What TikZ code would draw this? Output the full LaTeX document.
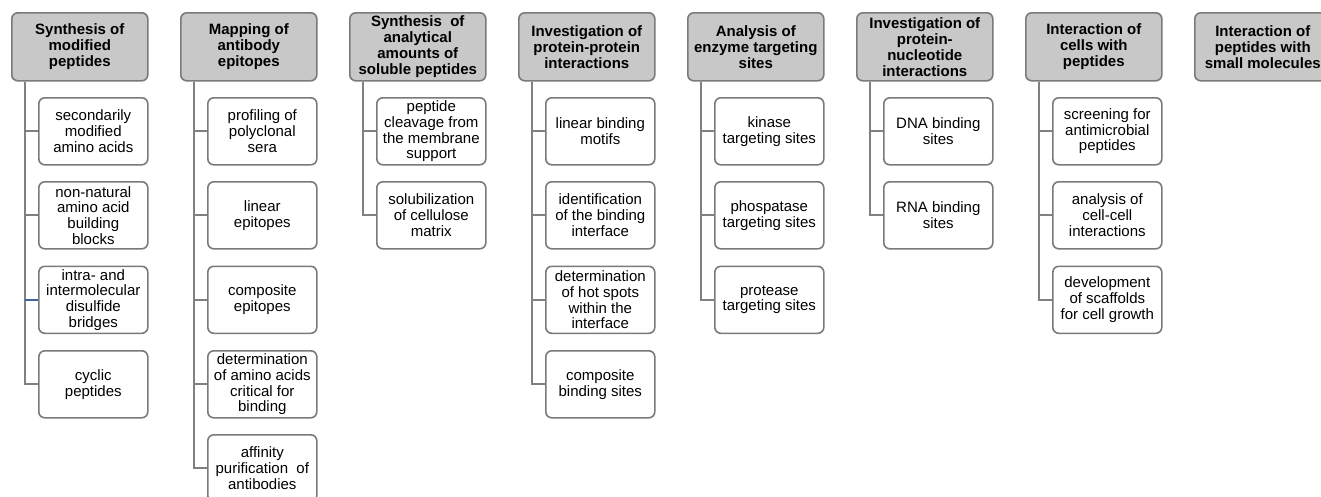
\documentclass[tikz,border=0pt]{standalone}
\usepackage{fontspec}
\setmainfont{Liberation Sans}
\definecolor{hdrfill}{HTML}{C8C8C8}
\definecolor{edge}{HTML}{7A7A7A}
\definecolor{conn}{HTML}{808080}
\definecolor{bluec}{HTML}{3F64A0}
\tikzset{
 hdr/.style={draw=edge, line width=1.6pt, fill=hdrfill, rounded corners=6pt, minimum width=136pt, minimum height=68pt, inner sep=0pt, align=center, font=\bfseries\fontsize{15}{16}\selectfont, anchor=north west},
 sub/.style={draw=edge, line width=1.6pt, fill=white, rounded corners=6pt, minimum width=109pt, minimum height=67pt, inner sep=0pt, align=center, font=\fontsize{15}{15.7}\selectfont, anchor=north west},
 link/.style={draw=conn, line width=2pt},
 bluelink/.style={draw=bluec, line width=2pt},
}
\begin{document}
\begin{tikzpicture}[x=1pt,y=-1pt]
\clip (0,0) rectangle (1321,496);
\fill[white] (0,0) rectangle (1321,496);
% headers
\node[hdr] (h1) at (11,12) {Synthesis of\\modified\\peptides};
\node[hdr] (h2) at (180,12) {Mapping of\\antibody\\epitopes};
\node[hdr] (h3) at (349,12) {Synthesis~~of\\analytical\\amounts of\\soluble peptides};
\node[hdr] (h4) at (518,12) {Investigation of\\protein-protein\\interactions};
\node[hdr] (h5) at (687,12) {Analysis of\\enzyme targeting\\sites};
\node[hdr] (h6) at (856,12) {Investigation of\\protein-\\nucleotide\\interactions};
\node[hdr] (h7) at (1025,12) {Interaction of\\cells with\\peptides};
\node[hdr] (h8) at (1194,12) {Interaction of\\peptides with\\small molecules};
% column 1
\node[sub] (c1-1) at (38,97) {secondarily\\modified\\amino acids};
\node[sub] (c1-2) at (38,181) {non-natural\\amino acid\\building\\blocks};
\node[sub] (c1-3) at (38,265.5) {intra- and\\intermolecular\\disulfide\\bridges};
\node[sub] (c1-4) at (38,350) {cyclic\\peptides};
% column 2
\node[sub] (c2-1) at (207,97) {profiling of\\polyclonal\\sera};
\node[sub] (c2-2) at (207,181) {linear\\epitopes};
\node[sub] (c2-3) at (207,265.5) {composite\\epitopes};
\node[sub] (c2-4) at (207,350) {determination\\of amino acids\\critical for\\binding};
\node[sub] (c2-5) at (207,434) {affinity\\purification~~of\\antibodies};
% column 3
\node[sub] (c3-1) at (376,97) {peptide\\cleavage from\\the membrane\\support};
\node[sub] (c3-2) at (376,181) {solubilization\\of cellulose\\matrix};
% column 4
\node[sub] (c4-1) at (545,97) {linear binding\\motifs};
\node[sub] (c4-2) at (545,181) {identification\\of the binding\\interface};
\node[sub] (c4-3) at (545,265.5) {determination\\of hot spots\\within the\\interface};
\node[sub] (c4-4) at (545,350) {composite\\binding sites};
% column 5
\node[sub] (c5-1) at (714,97) {kinase\\targeting sites};
\node[sub] (c5-2) at (714,181) {phospatase\\targeting sites};
\node[sub] (c5-3) at (714,265.5) {protease\\targeting sites};
% column 6
\node[sub] (c6-1) at (883,97) {DNA binding\\sites};
\node[sub] (c6-2) at (883,181) {RNA binding\\sites};
% column 7
\node[sub] (c7-1) at (1052,97) {screening for\\antimicrobial\\peptides};
\node[sub] (c7-2) at (1052,181) {analysis of\\cell-cell\\interactions};
\node[sub] (c7-3) at (1052,265.5) {development\\of scaffolds\\for cell growth};
% connectors
\foreach \c/\n in {1/4,2/5,3/2,4/4,5/3,6/2,7/3}{
  \foreach \i in {1,...,\n}{
    \draw[link] ([xshift=14pt]h\c.south west) |- (c\c-\i.west);
  }
}
\draw[bluelink] (c1-3.west) -- ++(-13pt,0);
\end{tikzpicture}
\end{document}
